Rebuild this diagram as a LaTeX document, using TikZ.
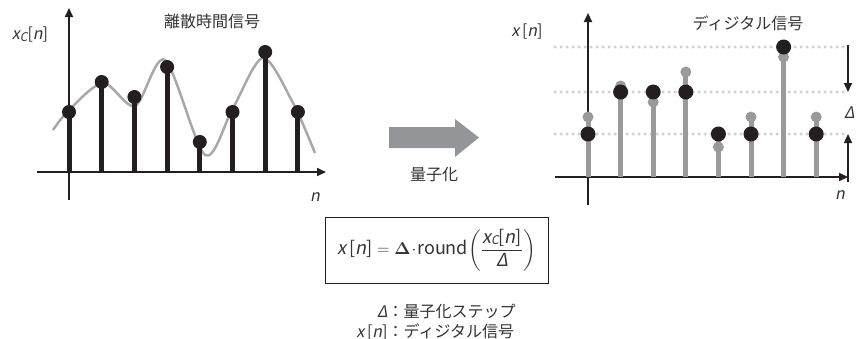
\documentclass[tikz,border=0pt]{standalone}
\usepackage{amsmath}
\usepackage[no-math]{fontspec}
\setmainfont{Noto Sans CJK JP}
\newfontfamily\jpsl[FakeSlant=0.2]{Noto Sans CJK JP}
\usetikzlibrary{arrows.meta}
\definecolor{SigInk}{HTML}{231F20}
\definecolor{SigText}{HTML}{333333}
\definecolor{SigGray}{HTML}{9A9A9A}
\definecolor{SigCurve}{HTML}{A8A8A8}
\definecolor{SigDot}{HTML}{D2D2D2}
\definecolor{SigArrow}{HTML}{939598}
\newcommand{\seqx}{\mbox{{\jpsl x}\,[{\jpsl n}]}}
\newcommand{\seqxc}{\mbox{{\jpsl x\raisebox{-1.5pt}{\fontsize{12}{12}\selectfont C}}[{\jpsl n}]}}

\begin{document}
\begin{tikzpicture}[>={Triangle[length=9pt,width=8pt]},x=1pt,y=-1pt,
  font=\fontsize{16}{20}\selectfont,text=SigText]
  \useasboundingbox (0,0) rectangle (858,338);
  % left: sampled signal
  \draw[SigCurve,line width=2.5pt] plot[smooth] coordinates {(53,130) (69,110) (103,83)
    (135,106) (165,60) (205,155) (233,108) (263,58) (293,103) (315,153)};
  \draw[->,SigInk,line width=2pt] (37,172) -- (326,172);
  \draw[->,SigInk,line width=2pt] (69,200) -- (69,8);
  \foreach \t/\v in {0/112,1/82,2/97,3/67,4/142,5/112,6/52,7/112}{
    \draw[SigInk,line width=5pt] (69+32.7*\t,172) -- (69+32.7*\t,\v);
    \fill[SigInk] (69+32.7*\t,\v) circle (7pt);
  }
  \node (lylab) at (30,35) {\seqxc};
  \node (ln) at (315,197) {\jpsl n};
  \node (ltitle) at (212,21) {離散時間信号};

  % quantize arrow
  \fill[SigArrow] (389,127) -- (455,127) -- (455,119) -- (479,137.5) -- (455,157)
    -- (455,148) -- (389,148) -- cycle;
  \node (qlabel) at (434,175) {量子化};

  % right: quantized signal
  \foreach \q in {47,92,134}
    \draw[SigDot,line width=3.5pt,line cap=round,dash pattern=on 0pt off 6pt] (555,\q) -- (845,\q);
  \draw[->,SigInk,line width=2pt] (555,177) -- (848,177);
  \draw[->,SigInk,line width=2pt] (588,205) -- (588,13);
  \foreach \t/\g/\q/\s in {0/117/134/117,1/86/92/86,2/102/92/92,3/72/92/72,
                           4/147/134/134,5/117/134/117,6/57/47/47,7/117/134/117}{
    \draw[SigGray,line width=5pt] (588+32.6*\t,177) -- (588+32.6*\t,\s);
    \fill[SigGray] (588+32.6*\t,\g) circle (5.5pt);
    \fill[SigInk] (588+32.6*\t,\q) circle (7.5pt);
  }
  \draw[->,SigInk,line width=1.5pt] (848,45) -- (848,92);
  \draw[->,SigInk,line width=1.5pt] (848,182) -- (848,134);
  \node[anchor=west,inner sep=0pt] (dlab) at (844,113) {\jpsl Δ};
  \node (rylab) at (527,32) {\seqx};
  \node (rn) at (840,195) {\jpsl n};
  \node (rtitle) at (748,23) {ディジタル信号};

  % formula and legend
  \node[draw=SigInk,line width=0.8pt,minimum width=223pt,minimum height=66pt,inner sep=2pt,
    font=\fontsize{18}{22}\selectfont] (formula) at (436.5,250)
    {$\seqx = \mathbf{\Delta}\!\cdot\!\mbox{round}\!\left(\dfrac{\seqxc}{\mbox{\jpsl Δ}}\right)$};
  \node[align=center,inner sep=0pt] (legend) at (436,323)
    {\begin{tabular}{@{}r@{：}l@{}}
       {\jpsl Δ} & 量子化ステップ\\[0pt]
       \seqx & ディジタル信号
     \end{tabular}};
\end{tikzpicture}
\end{document}
